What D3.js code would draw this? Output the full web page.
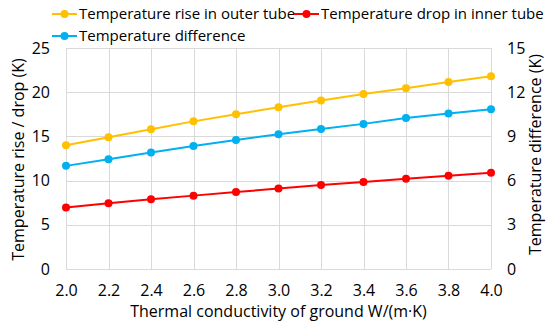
<!DOCTYPE html>
<html>
<head>
<meta charset="utf-8">
<script src="https://cdn.jsdelivr.net/npm/d3@7"></script>
<style>
  html, body { margin: 0; padding: 0; background: #fff; }
  svg text { font-family: "Open Sans", "Noto Sans", sans-serif; fill: #000; }
  .grid line { stroke: #d9d9d9; stroke-width: 1; }
  .axis path, .axis line { display: none; }
  .axis text { font-size: 16px; }
  .title { font-size: 16px; }
  .legend text { font-size: 15px; }
</style>
</head>
<body>
<div id="chart"></div>
<script>
const conductivity = [2.0, 2.2, 2.4, 2.6, 2.8, 3.0, 3.2, 3.4, 3.6, 3.8, 4.0];
const riseOuter = [14.0, 14.9, 15.8, 16.7, 17.5, 18.3, 19.05, 19.8, 20.45, 21.15, 21.8];
const dropInner = [6.95, 7.45, 7.9, 8.3, 8.7, 9.1, 9.5, 9.85, 10.2, 10.55, 10.9];
const tempDiff = [7.0, 7.45, 7.9, 8.35, 8.75, 9.15, 9.5, 9.85, 10.25, 10.55, 10.85];

const leftTicks = [0, 5, 10, 15, 20, 25];
const rightTicks = [0, 3, 6, 9, 12, 15];
const xTicks = [2.0, 2.2, 2.4, 2.6, 2.8, 3.0, 3.2, 3.4, 3.6, 3.8, 4.0];

const series = [
  { name: "Temperature rise in outer tube", values: riseOuter, color: "#ffc000", axis: "left" },
  { name: "Temperature drop in inner tube", values: dropInner, color: "#ff0000", axis: "left" },
  { name: "Temperature difference", values: tempDiff, color: "#00b0f0", axis: "right" }
];

const width = 550;
const height = 327;
const margin = { top: 48, right: 59, bottom: 58, left: 66 };
const innerW = width - margin.left - margin.right;
const innerH = height - margin.top - margin.bottom;

const svg = d3.select("#chart")
  .append("svg")
  .attr("width", width)
  .attr("height", height);

const g = svg.append("g")
  .attr("transform", `translate(${margin.left},${margin.top})`);

const x = d3.scaleLinear().domain([2.0, 4.0]).range([0, innerW]);
const yL = d3.scaleLinear().domain([0, 25]).range([innerH, 0]);
const yR = d3.scaleLinear().domain([0, 15]).range([innerH, 0]);

// gridlines
const grid = g.append("g").attr("class", "grid");
grid.selectAll("line.h")
  .data(leftTicks)
  .join("line")
  .attr("class", "h")
  .attr("x1", 0)
  .attr("x2", innerW)
  .attr("y1", (d) => Math.round(yL(d)) + 0.5)
  .attr("y2", (d) => Math.round(yL(d)) + 0.5);
grid.selectAll("line.v")
  .data(xTicks)
  .join("line")
  .attr("class", "v")
  .attr("x1", (d) => Math.round(x(d)) + 0.5)
  .attr("x2", (d) => Math.round(x(d)) + 0.5)
  .attr("y1", 0)
  .attr("y2", innerH);

// axes
g.append("g")
  .attr("class", "axis")
  .attr("transform", `translate(0,${innerH})`)
  .call(d3.axisBottom(x).tickValues(xTicks).tickFormat(d3.format(".1f")).tickSize(0).tickPadding(16));

g.append("g")
  .attr("class", "axis")
  .call(d3.axisLeft(yL).tickValues(leftTicks).tickSize(0).tickPadding(16));

g.append("g")
  .attr("class", "axis")
  .attr("transform", `translate(${innerW},0)`)
  .call(d3.axisRight(yR).tickValues(rightTicks).tickSize(0).tickPadding(16));

// axis titles
svg.append("text")
  .attr("class", "title")
  .attr("x", margin.left + innerW / 2)
  .attr("y", 317)
  .attr("text-anchor", "middle")
  .text("Thermal conductivity of ground W/(m·K)");

svg.append("text")
  .attr("class", "title")
  .attr("transform", `translate(24,${margin.top + innerH / 2 + 1}) rotate(-90)`)
  .attr("text-anchor", "middle")
  .text("Temperature rise / drop (K)");

svg.append("text")
  .attr("class", "title")
  .attr("transform", `translate(541,${margin.top + innerH / 2 - 4}) rotate(-90)`)
  .attr("text-anchor", "middle")
  .text("Temperature difference (K)");

// lines and markers
series.forEach((s) => {
  const y = s.axis === "left" ? yL : yR;
  const line = d3.line()
    .x((d, i) => x(conductivity[i]))
    .y((d) => y(d));
  g.append("path")
    .datum(s.values)
    .attr("fill", "none")
    .attr("stroke", s.color)
    .attr("stroke-width", 2)
    .attr("d", line);
  g.append("g")
    .selectAll("circle")
    .data(s.values)
    .join("circle")
    .attr("cx", (d, i) => x(conductivity[i]))
    .attr("cy", (d) => y(d))
    .attr("r", 4)
    .attr("fill", s.color);
});

// legend
const legendPos = [
  { x: 52, y: 14 },
  { x: 294, y: 14 },
  { x: 52, y: 36 }
];
const legend = svg.append("g").attr("class", "legend");
series.forEach((s, i) => {
  const p = legendPos[i];
  const item = legend.append("g").attr("transform", `translate(${p.x},${p.y})`);
  item.append("line")
    .attr("x1", 0).attr("x2", 25)
    .attr("y1", 0).attr("y2", 0)
    .attr("stroke", s.color)
    .attr("stroke-width", 2);
  item.append("circle")
    .attr("cx", 12.5).attr("cy", 0).attr("r", 4)
    .attr("fill", s.color);
  item.append("text")
    .attr("x", 27)
    .attr("y", 0)
    .attr("dy", "0.35em")
    .text(s.name);
});
</script>
</body>
</html>
